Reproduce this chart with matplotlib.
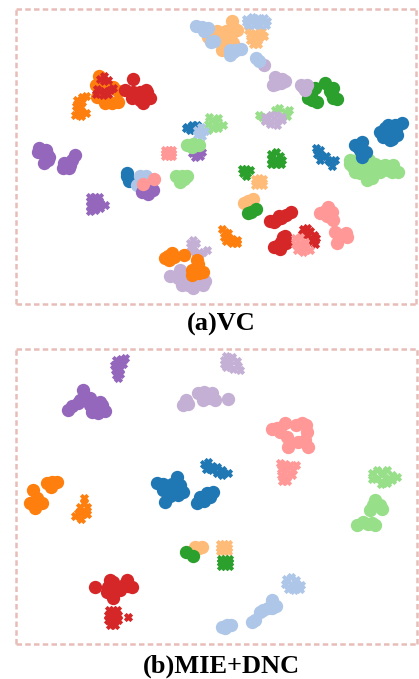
import matplotlib
matplotlib.use("Agg")
import matplotlib.pyplot as plt

BLUE, LBLUE = "#1f77b4", "#aec7e8"
ORANGE, LORANGE = "#ff7f0e", "#ffbb78"
GREEN, LGREEN = "#2ca02c", "#98df8a"
RED, PINK = "#d62728", "#ff9896"
PURPLE, LAVENDER = "#9467bd", "#c5b0d5"
FRAME = "#e8bdb8"

captions = ["(a)VC", "(b)MIE+DNC"]

# Embedding points (x, y): *_s source domain, *_t target domain.
# Panel (a)
a_lorange_s = [(232,21),(237,30),(232,33),(226,31),(217,31),(212,32),(222,50),(233,43),(228,38),(219,38),(208,37),(223,44)]
a_lorange_t = [(250,34),(255,33),(262,31),(250,40),(257,41),(264,36),(248,30),(254,37),(260,37),(253,44),(258,44)]
a_lblue_t = [(246,19),(252,17),(258,18),(264,18),(248,25),(254,25),(260,25),(266,25),(246,22),(252,21),(259,21),(267,21)]
a_lblue_s = [(196,26),(202,27),(208,28),(204,31),(214,41),(211,42),(230,50),(236,50),(241,49),(230,55),(233,52)]
a_lav_s1 = [(264,65)]
a_lblue_s2 = [(256,58),(259,61)]
a_lav_s2 = [(275,77),(282,79),(285,81),(276,84),(273,85),(281,83)]
a_green_s = [(325,83),(333,88),(332,94),(333,98),(337,99),(330,91),(315,88),(311,95),(308,98),(317,102),(312,100)]
a_lav_s3 = [(301,85),(307,85),(305,90),(303,87)]
a_orange_s = [(99,76),(96,85),(102,82),(113,87),(118,91),(97,97),(105,103),(112,103),(118,102),(104,95)]
a_orange_t = [(82,97),(86,96),(77,100),(82,102),(76,106),(81,107),(77,111),(82,112),(75,115),(81,116),(86,113)]
a_red_s = [(133,79),(125,90),(133,92),(147,92),(150,98),(143,103),(132,98),(140,92),(146,90),(140,100)]
a_red_t = [(104,76),(100,79),(108,80),(104,81),(97,89),(104,91),(110,90),(96,94),(103,95),(108,94),(113,88)]
a_purple_s1 = [(39,148),(38,152),(47,154),(48,160),(44,163),(46,150),(49,157)]
a_purple_s2 = [(75,155),(64,163),(70,165),(63,168),(69,168),(72,160)]
a_blue_t1 = [(187,127),(192,125),(197,125),(190,130),(194,130),(199,130),(186,128)]
a_lgreen_t1 = [(209,117),(212,120),(216,122),(223,125),(208,124),(213,128),(218,128),(208,130),(218,118)]
a_purple_t1 = [(192,153),(197,152),(202,152),(195,157),(200,156)]
a_lblue_t1 = [(197,130),(201,127),(205,131),(197,135),(202,136),(199,133)]
a_lgreen_s1 = [(187,145),(193,144),(199,145),(192,147)]
a_pink_t1 = [(165,150),(169,150),(172,150),(165,153),(169,153),(172,153),(165,156),(169,156),(172,156)]
a_blue_s2 = [(127,173),(127,176),(129,181)]
a_lblue_s3 = [(140,176),(146,176),(137,185),(141,180),(147,182)]
a_purple_s3 = [(142,192),(148,192),(153,190),(148,194)]
a_pink_s1 = [(154,179),(143,184)]
a_lgreen_s2 = [(176,176),(182,176),(187,176),(180,182),(184,179)]
a_purple_t2 = [(90,197),(95,197),(99,197),(90,201),(95,201),(100,203),(105,205),(90,206),(95,206),(100,208),(90,211),(95,210)]
a_lav_t1 = [(193,240),(190,243),(196,243),(193,246),(190,251),(195,252),(203,252),(207,250),(200,254),(192,248)]
a_lav_s4 = [(170,276),(180,270),(182,285),(193,288),(203,285),(185,277),(195,282),(188,285),(178,278),(205,281)]
a_orange_s2 = [(168,256),(165,258),(172,253),(169,260),(174,257)]
a_orange_s2b = [(184,255)]
a_orange_s3 = [(197,260),(197,268),(192,270),(203,272),(192,275),(199,273),(198,264)]
a_lgreen_t2 = [(275,110),(279,108),(285,112),(289,110),(287,116),(262,117),(259,115),(265,120)]
a_lav_t2 = [(265,117),(271,115),(277,115),(282,117),(265,121),(271,121),(277,121),(282,120),(270,124),(277,125)]
a_lgreen_s3 = [(350,160),(353,167),(360,166),(369,160),(375,164),(382,166),(393,165),(388,170),(398,172),(367,180),(360,173),(372,178),(366,174),(350,164),(392,172),(357,160),(365,165),(375,170),(385,165),(380,172),(355,172),(362,170)]
a_blue_s3 = [(380,132),(385,128),(390,133),(402,123),(395,125),(397,135),(390,140),(383,137),(396,130),(388,125),(392,139)]
a_blue_s4 = [(358,147),(362,142),(366,152),(362,157),(355,145),(360,150)]
a_blue_t2 = [(316,148),(320,150),(317,154),(322,156),(326,156),(320,160),(330,162),(335,160),(332,166),(328,160)]
a_green_t1 = [(271,154),(276,152),(280,156),(271,159),(276,159),(282,160),(271,164),(276,164),(281,164)]
a_green_t2 = [(242,169),(246,169),(250,170),(243,173),(247,173),(246,176)]
a_lorange_t2 = [(255,179),(259,178),(263,179),(257,183),(261,183),(255,185),(263,185)]
a_lorange_s2 = [(244,203),(248,201),(253,199)]
a_green_s2 = [(248,213),(251,212),(256,209)]
a_orange_t2 = [(222,229),(225,232),(228,233),(224,237),(229,238),(232,239),(226,241),(232,243),(237,243),(237,240)]
a_red_s2 = [(270,221),(276,220),(281,218),(286,215),(291,212),(279,216),(274,222)]
a_red_s3 = [(285,236),(281,242),(286,243),(277,246),(280,249),(274,247),(283,237)]
a_red_t2 = [(303,229),(307,228),(310,231),(314,235),(316,238),(302,234),(308,235),(312,241),(315,244)]
a_pink_t2 = [(295,238),(300,237),(295,244),(300,243),(305,242),(301,248),(306,248),(310,250),(297,250),(303,252)]
a_pink_s2 = [(328,207),(320,213),(332,212),(333,220),(327,216),(325,211),(330,217)]
a_pink_s3 = [(335,232),(347,237),(337,243),(342,235),(339,237),(346,233)]

# Panel (b)
b_purple_t = [(116,360),(121,359),(125,358),(114,365),(119,364),(123,364),(115,370),(120,369),(116,375),(120,374),(118,378)]
b_purple_s = [(68,410),(72,406),(78,403),(83,390),(85,397),(80,400),(100,402),(90,398),(92,412),(90,405),(105,411),(98,413),(102,405)]
b_lav_s = [(183,405),(188,404),(198,393),(204,392),(203,400),(209,398),(212,393),(205,396),(215,400),(186,400)]
b_lav_s2 = [(228,399)]
b_lav_t = [(226,356),(232,357),(224,360),(230,361),(237,361),(224,364),(230,365),(238,366),(226,367),(233,369),(240,370)]
b_orange_s1 = [(52,482),(47,483),(51,487),(57,482)]
b_orange_s2 = [(33,490),(35,503),(30,503),(42,503),(35,508),(37,498)]
b_orange_t = [(84,498),(84,503),(80,507),(87,507),(78,513),(84,512),(75,516),(81,519),(87,514)]
b_blue_s1 = [(157,483),(177,477),(180,485),(167,490),(165,502),(183,492),(163,490),(172,484),(170,496),(163,484),(175,490),(178,495)]
b_blue_s2 = [(200,497),(197,503),(207,493),(213,492),(204,501),(210,497)]
b_blue_t = [(204,464),(208,462),(212,466),(206,469),(212,470),(217,467),(222,470),(228,473),(217,473),(222,475)]
b_pink_s = [(272,429),(277,428),(285,423),(302,423),(307,432),(287,437),(288,447),(308,447),(298,442),(305,440),(280,432),(296,425),(306,425)]
b_pink_t = [(280,463),(285,464),(290,465),(296,465),(281,469),(287,470),(293,470),(281,475),(287,476),(292,475),(282,481),(287,481)]
b_lgreen_t = [(372,473),(377,470),(382,472),(387,470),(392,475),(397,477),(372,479),(378,478),(385,478),(392,480),(381,484),(387,483)]
b_lgreen_s1 = [(375,500),(380,505),(373,505),(382,509),(370,510)]
b_lgreen_s2 = [(357,525),(363,522),(368,524),(375,525),(372,523)]
b_lorange_s = [(195,547),(202,547),(199,548)]
b_green_s = [(186,552),(193,556)]
b_lorange_t = [(220,544),(224,544),(228,544),(220,548),(224,548),(228,548),(220,551),(224,551),(228,551)]
b_green_t = [(221,559),(225,559),(229,559),(221,562),(225,562),(229,562),(221,566),(225,566),(229,566)]
b_red_s = [(95,587),(110,580),(113,582),(127,580),(113,598),(132,587),(107,592),(120,590),(128,586),(115,590),(124,585),(108,587)]
b_red_t1 = [(109,610),(113,610),(117,610),(108,615),(113,615),(118,615),(108,620),(113,620),(118,620),(110,625),(115,625)]
b_red_t2 = [(128,617)]
b_lblue_t = [(286,579),(291,577),(296,580),(285,584),(291,584),(297,584),(301,585),(288,589),(294,590),(300,589)]
b_lblue_s1 = [(222,627),(227,625),(231,625),(225,628)]
b_lblue_s2 = [(252,622),(255,620),(260,612),(263,610),(272,600),(272,608),(276,606),(268,608)]

fig = plt.figure(figsize=(4.19, 6.79), dpi=100)
W, H = 419, 679


def panel(box, layers, caption, caption_y):
    left, top, right, bottom = box
    ax = fig.add_axes([left / W, 1 - bottom / H, (right - left) / W, (bottom - top) / H])
    ax.set_xlim(left, right)
    ax.set_ylim(bottom, top)
    ax.set_xticks([])
    ax.set_yticks([])
    for sp in ax.spines.values():
        sp.set_color(FRAME)
        sp.set_linewidth(1.8)
        sp.set_capstyle("butt")
        sp.set_linestyle((0, (2.2, 1.3)))
    for marker, color, pts in layers:
        xs = [p[0] for p in pts]
        ys = [p[1] for p in pts]
        if marker == "o":
            ax.scatter(xs, ys, s=92, c=color, marker="o", linewidths=0, zorder=2)
        else:
            ax.scatter(xs, ys, s=22, c=color, marker="x", linewidths=2.8, zorder=2)
    fig.text(221 / W, 1 - caption_y / H, caption, ha="center", va="center",
             family="Liberation Serif", weight="bold", fontsize=19, color="black")


vc_layers = [
    ("o", LORANGE, a_lorange_s), ("x", LORANGE, a_lorange_t), ("x", LBLUE, a_lblue_t), ("o", LBLUE, a_lblue_s),
    ("o", LAVENDER, a_lav_s1), ("o", LBLUE, a_lblue_s2), ("o", LAVENDER, a_lav_s2), ("o", GREEN, a_green_s),
    ("o", LAVENDER, a_lav_s3), ("o", ORANGE, a_orange_s), ("x", ORANGE, a_orange_t), ("o", RED, a_red_s),
    ("x", RED, a_red_t), ("o", PURPLE, a_purple_s1), ("o", PURPLE, a_purple_s2), ("x", BLUE, a_blue_t1),
    ("x", LGREEN, a_lgreen_t1), ("x", PURPLE, a_purple_t1), ("x", LBLUE, a_lblue_t1), ("o", LGREEN, a_lgreen_s1),
    ("x", PINK, a_pink_t1), ("o", BLUE, a_blue_s2), ("o", LBLUE, a_lblue_s3), ("o", PURPLE, a_purple_s3),
    ("o", PINK, a_pink_s1), ("o", LGREEN, a_lgreen_s2), ("x", PURPLE, a_purple_t2), ("x", LAVENDER, a_lav_t1),
    ("o", LAVENDER, a_lav_s4), ("o", ORANGE, a_orange_s2), ("o", ORANGE, a_orange_s2b), ("o", ORANGE, a_orange_s3),
    ("x", LGREEN, a_lgreen_t2), ("x", LAVENDER, a_lav_t2), ("o", LGREEN, a_lgreen_s3), ("o", BLUE, a_blue_s3),
    ("o", BLUE, a_blue_s4), ("x", BLUE, a_blue_t2), ("x", GREEN, a_green_t1), ("x", GREEN, a_green_t2),
    ("x", LORANGE, a_lorange_t2), ("o", LORANGE, a_lorange_s2), ("o", GREEN, a_green_s2), ("x", ORANGE, a_orange_t2),
    ("o", RED, a_red_s2), ("o", RED, a_red_s3), ("x", RED, a_red_t2), ("x", PINK, a_pink_t2),
    ("o", PINK, a_pink_s2), ("o", PINK, a_pink_s3),
]
dnc_layers = [
    ("x", PURPLE, b_purple_t), ("o", PURPLE, b_purple_s), ("o", LAVENDER, b_lav_s), ("o", LAVENDER, b_lav_s2),
    ("x", LAVENDER, b_lav_t), ("o", ORANGE, b_orange_s1), ("o", ORANGE, b_orange_s2), ("x", ORANGE, b_orange_t),
    ("o", BLUE, b_blue_s1), ("o", BLUE, b_blue_s2), ("x", BLUE, b_blue_t), ("o", PINK, b_pink_s),
    ("x", PINK, b_pink_t), ("x", LGREEN, b_lgreen_t), ("o", LGREEN, b_lgreen_s1), ("o", LGREEN, b_lgreen_s2),
    ("o", LORANGE, b_lorange_s), ("o", GREEN, b_green_s), ("x", LORANGE, b_lorange_t), ("x", GREEN, b_green_t),
    ("o", RED, b_red_s), ("x", RED, b_red_t1), ("x", RED, b_red_t2), ("x", LBLUE, b_lblue_t),
    ("o", LBLUE, b_lblue_s1), ("o", LBLUE, b_lblue_s2),
]

panel((15.5, 9, 416, 304), vc_layers, captions[0], 324)
panel((16, 349, 417, 644), dnc_layers, captions[1], 666)
fig.savefig("out.png", dpi=100)
